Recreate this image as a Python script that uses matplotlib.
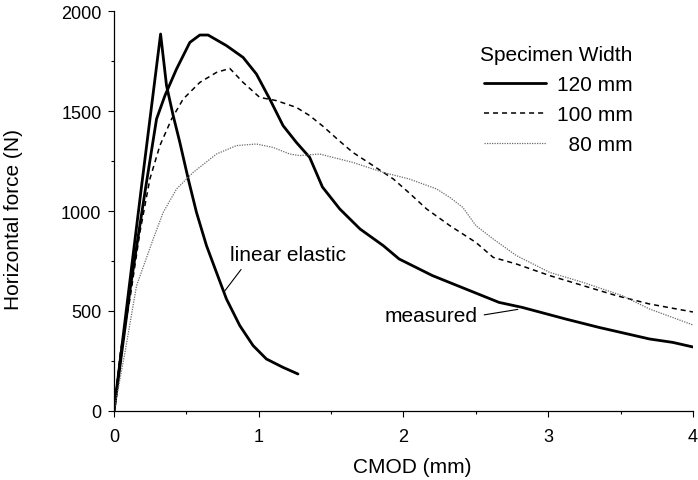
import numpy as np
from matplotlib import pyplot as plt

plt.rcParams['font.family'] = ['Liberation Sans', 'DejaVu Sans']

# CMOD (mm) vs horizontal force (N)
ELASTIC_X = [0.0, 0.106, 0.191, 0.322, 0.363, 0.409, 0.455, 0.513, 0.570,
             0.639, 0.708, 0.777, 0.869, 0.961, 1.053, 1.168, 1.271]
ELASTIC_Y = [0, 627, 1127, 1885, 1627, 1477, 1343, 1160, 993,
             827, 693, 560, 427, 327, 260, 218, 185]

W120_X = [0.0, 0.115, 0.221, 0.294, 0.352, 0.432, 0.524, 0.593, 0.65,
          0.777, 0.892, 0.984, 1.076, 1.168, 1.26, 1.352, 1.44, 1.56,
          1.70, 1.86, 1.97, 2.2, 2.43, 2.66, 2.82, 3.12, 3.35, 3.70,
          3.86, 4.0]
W120_Y = [0, 627, 1127, 1460, 1577, 1710, 1843, 1880, 1880,
          1827, 1768, 1685, 1560, 1427, 1343, 1268, 1120, 1010,
          910, 827, 760, 677, 610, 543, 518, 460, 418, 360,
          343, 320]

W100_X = [0.0, 0.045, 0.11, 0.179, 0.248, 0.317, 0.398, 0.478, 0.593,
          0.708, 0.8, 0.892, 1.007, 1.122, 1.26, 1.352, 1.45, 1.55,
          1.65, 1.79, 1.93, 2.04, 2.16, 2.32, 2.50, 2.62, 2.78, 3.01,
          3.24, 3.47, 3.70, 4.0]
W100_Y = [0, 300, 560, 893, 1160, 1327, 1460, 1560, 1643,
          1693, 1713, 1643, 1568, 1552, 1518, 1477, 1420, 1355,
          1293, 1227, 1160, 1090, 1010, 927, 843, 768, 735, 677,
          627, 577, 535, 495]

W80_X = [0.0, 0.076, 0.156, 0.271, 0.34, 0.432, 0.547, 0.708, 0.846,
         0.984, 1.099, 1.214, 1.283, 1.42, 1.65, 1.86, 2.04, 2.23,
         2.32, 2.41, 2.5, 2.62, 2.78, 3.01, 3.24, 3.51, 3.70, 4.0]
W80_Y = [0, 293, 627, 860, 993, 1110, 1193, 1285, 1327,
         1335, 1318, 1285, 1277, 1285, 1243, 1193, 1160, 1110,
         1068, 1018, 927, 860, 777, 693, 643, 577, 510, 430]

# leading spaces right-align the shorter label like the original
LEGEND_LABELS = ['120 mm', '100 mm', '  80 mm']


fig = plt.figure(figsize=(6.98, 4.81), dpi=100)
ax = fig.add_axes([0.1633, 0.1435, 0.8295, 0.8315])

style = dict(solid_joinstyle='round', solid_capstyle='round')
ax.plot(ELASTIC_X, ELASTIC_Y, color='black', lw=2.0, **style)
l120, = ax.plot(W120_X, W120_Y, color='black', lw=2.0, **style)
l100, = ax.plot(W100_X, W100_Y, color='black', lw=1.1, linestyle=(0, (3.3, 2.6)))
l80, = ax.plot(W80_X, W80_Y, color='#6a6a6a', lw=0.9, linestyle=(0, (1, 1)))

ax.set_xlim(0, 4)
ax.set_ylim(0, 2000)
ax.set_xticks([0, 1, 2, 3, 4])
ax.set_xticks([0.5, 1.5, 2.5, 3.5], minor=True)
ax.set_yticks([0, 500, 1000, 1500, 2000])
ax.set_yticks([250, 750, 1250, 1750], minor=True)
ax.tick_params(which='major', direction='out', length=4, width=0.8, labelsize=13)
ax.tick_params(axis='x', which='major', pad=8)
ax.tick_params(axis='y', which='major', pad=5)
ax.tick_params(which='minor', direction='out', length=2.5, width=0.8)

for side in ('top', 'right'):
    ax.spines[side].set_visible(False)
for side in ('left', 'bottom'):
    ax.spines[side].set_linewidth(0.9)

ax.set_xlabel('CMOD (mm)', fontsize=15)
ax.set_ylabel('Horizontal force (N)', fontsize=15)
ax.xaxis.set_label_coords(0.516, -0.115)
ax.yaxis.set_label_coords(-0.157, 0.48)

# annotations
ax.annotate('linear elastic', xy=(0.765, 600), xytext=(0.8, 780),
            fontsize=15, va='center', ha='left',
            arrowprops=dict(arrowstyle='-', lw=0.8, color='black',
                            shrinkA=2, shrinkB=0, relpos=(0.13, 0.0)))
ax.annotate('measured', xy=(2.79, 508), xytext=(2.51, 475),
            fontsize=15, va='center', ha='right',
            arrowprops=dict(arrowstyle='-', lw=0.8, color='black',
                            shrinkA=3, shrinkB=0, relpos=(1.0, 0.5)))

leg = ax.legend([l120, l100, l80], LEGEND_LABELS, title='Specimen Width',
                loc='upper right', bbox_to_anchor=(0.918, 0.921),
                bbox_transform=fig.transFigure, frameon=False,
                fontsize=15, title_fontsize=15, handlelength=3.0,
                handletextpad=0.5, labelspacing=0.53, borderaxespad=0)
leg._legend_box.align = 'right'

fig.savefig('out.png', dpi=100)
